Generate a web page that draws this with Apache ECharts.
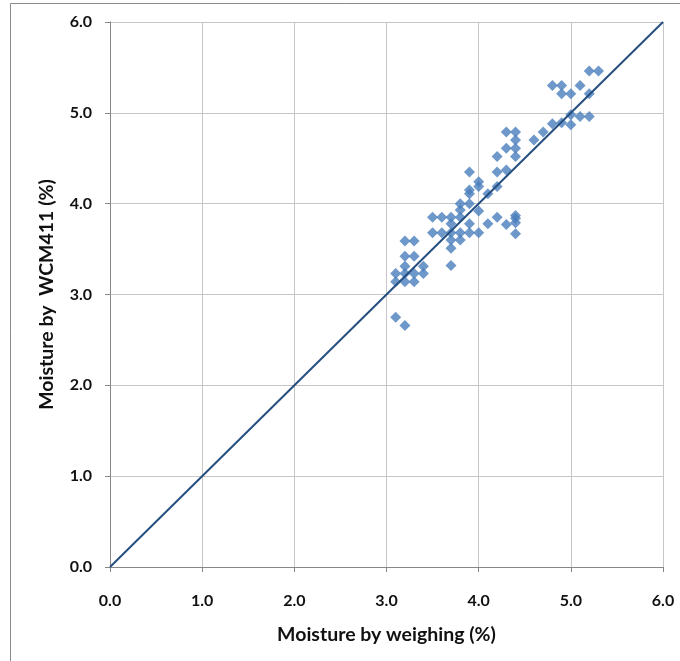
<!DOCTYPE html>
<html><head><meta charset="utf-8">
<script src="https://cdn.jsdelivr.net/npm/echarts@6/dist/echarts.min.js"></script>
<style>html,body{margin:0;padding:0;background:#fff}#c{width:680px;height:661px}</style>
</head><body><div id="c"></div>
<script>
const xTicks = [0, 1, 2, 3, 4, 5, 6];
const yTicks = [0, 1, 2, 3, 4, 5, 6];
const weighing = [
  3.1,3.1,3.1,
  3.2,3.2,3.2,3.2,3.2,3.2,
  3.3,3.3,3.3,3.3,
  3.4,3.4,
  3.5,3.5,
  3.6,3.6,
  3.7,3.7,3.7,3.7,3.7,3.7,
  3.8,3.8,3.8,3.8,3.8,
  3.9,3.9,3.9,3.9,3.9,3.9,
  4.0,4.0,4.0,4.0,
  4.1,4.1,
  4.2,4.2,4.2,4.2,
  4.3,4.3,4.3,4.3,
  4.4,4.4,4.4,4.4,4.4,4.4,4.4,4.4,
  4.6,4.7,
  4.8,4.8,
  4.9,4.9,4.9,
  5.0,5.0,5.0,
  5.1,5.1,
  5.2,5.2,5.2,
  5.3
];
const wcm411 = [
  3.23,3.14,2.75,
  3.59,3.42,3.31,3.23,3.14,2.66,
  3.59,3.42,3.23,3.14,
  3.31,3.23,
  3.85,3.68,
  3.85,3.68,
  3.85,3.78,3.68,3.60,3.51,3.32,
  4.00,3.93,3.85,3.68,3.60,
  4.35,4.15,4.11,4.00,3.78,3.68,
  4.24,4.19,3.92,3.68,
  4.11,3.78,
  4.52,4.35,4.19,3.85,
  4.79,4.61,4.37,3.77,
  4.79,4.70,4.61,4.52,3.87,3.84,3.79,3.67,
  4.70,4.79,
  5.30,4.88,
  5.30,5.21,4.89,
  5.21,4.98,4.87,
  5.30,4.96,
  5.46,5.21,4.96,
  5.46
];
const lineX = [0, 6];
const lineY = [0, 6];

const pts = weighing.map((x, i) => [x, wcm411[i]]);
const linePts = lineX.map((x, i) => [x, lineY[i]]);
const font = 'Lato, "Open Sans", sans-serif';
const chart = echarts.init(document.getElementById('c'));
chart.setOption({
  animation: false,
  backgroundColor: '#fff',
  graphic: [{type:'rect', shape:{x:10.5,y:3.5,width:700,height:700}, style:{fill:null, stroke:'#8a8a8a', lineWidth:1}, silent:true}],
  grid: {left:110, right:17, top:22, bottom:94},
  xAxis: {
    type:'value', min:0, max:6, interval:1,
    name:'Moisture by weighing (%)', nameLocation:'middle', nameGap:58,
    nameTextStyle:{fontFamily:font, fontSize:19.5, fontWeight:'bold', color:'#111'},
    axisLine:{show:true, onZero:false, lineStyle:{color:'#868686'}},
    axisTick:{show:true, length:5, lineStyle:{color:'#868686'}},
    axisLabel:{fontFamily:font, fontSize:16, fontWeight:'bold', color:'#111', margin:26, formatter:v=>xTicks.includes(v)?v.toFixed(1):''},
    splitLine:{show:true, lineStyle:{color:'#c6c6c6'}}
  },
  yAxis: {
    type:'value', min:0, max:6, interval:1,
    name:'Moisture by  WCM411 (%)', nameLocation:'middle', nameGap:53,
    nameTextStyle:{fontFamily:font, fontSize:19.5, fontWeight:'bold', color:'#111'},
    axisLine:{show:true, onZero:false, lineStyle:{color:'#868686'}},
    axisTick:{show:true, length:5, lineStyle:{color:'#868686'}},
    axisLabel:{fontFamily:font, fontSize:16, fontWeight:'bold', color:'#111', margin:18, formatter:v=>yTicks.includes(v)?v.toFixed(1):''},
    splitLine:{show:true, lineStyle:{color:'#c6c6c6'}}
  },
  series: [
    {type:'scatter', data:pts, symbol:'diamond', symbolSize:11, itemStyle:{color:'#4a7ebb'}, z:2},
    {type:'line', data:linePts, symbol:'none', lineStyle:{color:'#254f80', width:2}, z:3}
  ]
});
</script></body></html>
